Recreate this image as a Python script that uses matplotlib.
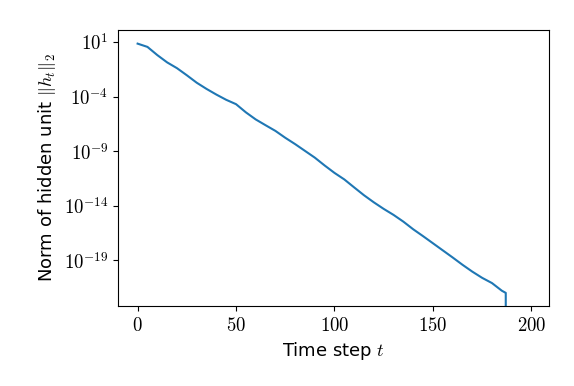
import numpy as np
import matplotlib
matplotlib.use("Agg")
import matplotlib.pyplot as plt
from matplotlib.ticker import FixedLocator, FuncFormatter, NullLocator

plt.rcParams['mathtext.fontset'] = 'cm'
plt.rcParams['font.family'] = ['DejaVu Sans']

# data (log10 of the norm); final step collapses to 0
steps = [0, 5, 10, 15, 20, 25, 30, 35, 40, 45, 50, 55, 60, 65, 70, 75, 80, 85, 90,
         95, 100, 105, 110, 115, 120, 125, 130, 135, 140, 145, 150, 155, 160, 165,
         170, 175, 180, 185, 187]
log_norm = [0.85, 0.55, -0.20, -0.87, -1.40, -2.05, -2.73, -3.30, -3.82, -4.30,
            -4.70, -5.45, -6.10, -6.63, -7.15, -7.78, -8.36, -8.98, -9.60, -10.32,
            -11.00, -11.60, -12.33, -13.05, -13.70, -14.30, -14.85, -15.47, -16.17,
            -16.80, -17.45, -18.10, -18.75, -19.42, -20.05, -20.62, -21.10, -21.80,
            -22.00]
zero_steps = [188, 199]
ytick_exps = [1, -4, -9, -14, -19]
xticks = [0, 50, 100, 150, 200]

t = np.array(steps + zero_steps, dtype=float)
norm = np.concatenate([10.0 ** np.array(log_norm), np.zeros(len(zero_steps))])

fig = plt.figure(figsize=(5.74, 3.86), dpi=100)
ax = fig.add_axes([0.2056, 0.2073, 0.7508, 0.7150])
ax.plot(t, norm, color='#1f77b4', lw=1.5)
ax.set_yscale('log', nonpositive='clip')
ax.set_ylim(10 ** -23.2, 10 ** 2.1)
ax.set_xlim(-9.95, 208.95)

ax.yaxis.set_major_locator(FixedLocator([10.0 ** e for e in ytick_exps]))
ax.yaxis.set_minor_locator(NullLocator())
ax.yaxis.set_major_formatter(FuncFormatter(lambda v, p: r'$10^{%d}$' % round(np.log10(v))))
ax.set_xticks(xticks)
ax.set_xticklabels([r'$%d$' % x for x in xticks])
ax.tick_params(labelsize=13.5)

ax.set_xlabel(r'Time step $t$', fontsize=13)
ax.set_ylabel(r'Norm of hidden unit $\|h_t\|_2$', fontsize=13)

fig.savefig('out.png', dpi=100)
